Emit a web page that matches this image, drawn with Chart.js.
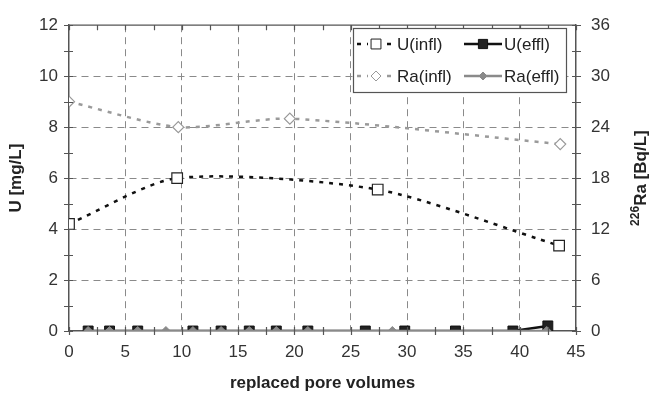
<!DOCTYPE html>
<html>
<head>
<meta charset="utf-8">
<script src="https://cdn.jsdelivr.net/npm/chart.js@4"></script>
<style>
  body { margin: 0; background: #fff; }
  #wrap { width: 651px; height: 402px; }
</style>
</head>
<body>
<div id="wrap"><canvas id="chart" width="651" height="402"></canvas></div>
<script>
// values
const uInflX = [0, 9.6, 27.4, 43.5];
const uInfl = [4.2, 6.0, 5.55, 3.35];
const uEfflX = [1.7, 3.6, 6.1, 11.0, 13.5, 16.0, 18.4, 21.2, 26.3, 29.8, 34.3, 39.4, 42.5];
const uEffl = [0, 0, 0, 0, 0, 0, 0, 0, 0, 0, 0, 0, 0.2];
const raInflX = [0, 9.7, 19.6, 43.6];
const raInfl = [27, 24, 25, 22];
const raEfflX = [1.7, 3.6, 6.1, 8.6, 11.0, 13.5, 16.0, 18.4, 21.2, 28.7, 42.4];
const raEffl = [0, 0, 0, 0, 0, 0, 0, 0, 0, 0, 0];

const xTicks = [0, 5, 10, 15, 20, 25, 30, 35, 40, 45];
const uTicks = [0, 2, 4, 6, 8, 10, 12];
const raTicks = [0, 6, 12, 18, 24, 30, 36];

const FONT = '"Liberation Sans", Arial, sans-serif';
const GRAY = '#8a8a8a';

function pts(xs, ys) {
    return xs.map((x, i) => ({ x: x, y: ys[i] }));
}

// tick marks crossing the axes, frame on top, right title with superscript
const frameTicks = {
    id: 'frameTicks',
    afterDraw(chart) {
        const ctx = chart.ctx;
        const a = chart.chartArea;
        const xs = chart.scales.x, yl = chart.scales.y, yr = chart.scales.y2;
        ctx.save();
        ctx.strokeStyle = '#555';
        ctx.lineWidth = 1.2;
        ctx.beginPath();
        ctx.moveTo(a.left, a.top); ctx.lineTo(a.right, a.top);
        for (let v = 0; v <= 45; v += 2.5) {
            const px = Math.round(xs.getPixelForValue(v)) + 0.5;
            ctx.moveTo(px, a.bottom - 4); ctx.lineTo(px, a.bottom + 4);
            ctx.moveTo(px, a.top); ctx.lineTo(px, a.top + 5);
        }
        for (let v = 0; v <= 12; v += 1) {
            const py = Math.round(yl.getPixelForValue(v)) + 0.5;
            ctx.moveTo(a.left - 5, py); ctx.lineTo(a.left + 4, py);
        }
        for (let v = 0; v <= 36; v += 3) {
            const py = Math.round(yr.getPixelForValue(v)) + 0.5;
            ctx.moveTo(a.right - 4, py); ctx.lineTo(a.right + 5, py);
        }
        ctx.stroke();

        ctx.fillStyle = '#222';
        ctx.translate(640, (a.top + a.bottom) / 2);
        ctx.rotate(-Math.PI / 2);
        ctx.font = 'bold 12px ' + FONT;
        const sup = '226';
        const main = 'Ra [Bq/L]';
        const supW = ctx.measureText(sup).width;
        ctx.font = 'bold 17px ' + FONT;
        const mainW = ctx.measureText(main).width;
        const x0 = -(supW + mainW) / 2;
        ctx.fillText(main, x0 + supW, 6);
        ctx.font = 'bold 12px ' + FONT;
        ctx.fillText(sup, x0, -1);
        ctx.restore();
    }
};

// legend box inside the plot
const boxLegend = {
    id: 'boxLegend',
    afterDraw(chart) {
        const ctx = chart.ctx;
        ctx.save();
        ctx.fillStyle = '#fff';
        ctx.fillRect(353, 28, 213, 64);
        ctx.strokeStyle = '#555';
        ctx.lineWidth = 1.2;
        ctx.strokeRect(353.5, 28.5, 213, 64);
        const cells = [[0, 357, 44], [1, 464, 44], [2, 357, 76], [3, 464, 76]];
        cells.forEach(([i, x, y]) => {
            const ds = chart.data.datasets[i];
            ctx.strokeStyle = ds.borderColor;
            ctx.lineWidth = ds.borderWidth;
            ctx.setLineDash(ds.borderDash || []);
            ctx.beginPath();
            ctx.moveTo(x, y); ctx.lineTo(x + 38, y);
            ctx.stroke();
            ctx.setLineDash([]);
            if (ds.borderDash) {
                ctx.fillStyle = '#fff';
                ctx.fillRect(x + 11, y - 6, 16, 12);
            }
            ctx.fillStyle = ds.pointBackgroundColor;
            ctx.strokeStyle = ds.pointBorderColor;
            ctx.lineWidth = 1;
            Chart.helpers.drawPoint(ctx, {
                pointStyle: ds.pointStyle,
                radius: ds.pointRadius - 0.5,
                borderWidth: 1
            }, x + 19, y);
            ctx.fillStyle = '#222';
            ctx.font = '17px ' + FONT;
            ctx.textBaseline = 'middle';
            ctx.fillText(ds.label, x + 40, y + 1);
        });
        ctx.restore();
    }
};

const axisFont = { family: FONT, size: 17 };
const titleFont = { family: FONT, size: 17, weight: 'bold' };

new Chart(document.getElementById('chart'), {
    type: 'line',
    data: {
        datasets: [{
            label: 'U(infl)',
            data: pts(uInflX, uInfl),
            yAxisID: 'y',
            borderColor: '#111',
            borderWidth: 2.5,
            borderDash: [4, 6],
            tension: 0.25,
            pointStyle: 'rect',
            pointRadius: 7.5,
            pointBackgroundColor: '#fff',
            pointBorderColor: '#222',
            pointBorderWidth: 1.2,
            order: 4
        }, {
            label: 'U(effl)',
            data: pts(uEfflX, uEffl),
            yAxisID: 'y',
            borderColor: '#111',
            borderWidth: 2.5,
            tension: 0,
            pointStyle: 'rect',
            pointRadius: 7,
            pointBackgroundColor: '#222',
            pointBorderColor: '#111',
            pointBorderWidth: 1,
            order: 3
        }, {
            label: 'Ra(infl)',
            data: pts(raInflX, raInfl),
            yAxisID: 'y2',
            borderColor: '#9a9a9a',
            borderWidth: 2.5,
            borderDash: [4, 6],
            tension: 0.25,
            pointStyle: 'rectRot',
            pointRadius: 5.5,
            pointBackgroundColor: '#fff',
            pointBorderColor: '#999',
            pointBorderWidth: 1.2,
            order: 2
        }, {
            label: 'Ra(effl)',
            data: pts(raEfflX, raEffl),
            yAxisID: 'y2',
            borderColor: '#8a8a8a',
            borderWidth: 2.5,
            tension: 0,
            pointStyle: 'rectRot',
            pointRadius: 4.5,
            pointBackgroundColor: '#8a8a8a',
            pointBorderColor: '#8a8a8a',
            pointBorderWidth: 1,
            order: 1
        }]
    },
    options: {
        responsive: false,
        animation: false,
        layout: { padding: { top: 16, right: 0, left: 0, bottom: 0 } },
        plugins: {
            legend: { display: false },
            tooltip: { enabled: false }
        },
        scales: {
            x: {
                type: 'linear',
                min: 0,
                max: 45,
                afterBuildTicks: s => { s.ticks = xTicks.map(v => ({ value: v })); },
                afterFit: s => { s.height = 71; },
                grid: {
                    color: c => (c.tick.value === 0 || c.tick.value === 45) ? 'rgba(0,0,0,0)' : GRAY,
                    drawTicks: false
                },
                border: { color: '#555', width: 1.5, dash: [7, 5] },
                ticks: { color: '#333', font: axisFont, padding: 11, maxRotation: 0 },
                title: {
                    display: true,
                    text: 'replaced pore volumes',
                    color: '#222',
                    font: titleFont,
                    padding: { top: 0, bottom: 8 }
                }
            },
            y: {
                position: 'left',
                min: 0,
                max: 12,
                afterBuildTicks: s => { s.ticks = uTicks.map(v => ({ value: v })); },
                afterFit: s => { s.width = 69; },
                grid: {
                    color: c => (c.tick.value === 0 || c.tick.value === 12) ? 'rgba(0,0,0,0)' : GRAY,
                    drawTicks: false
                },
                border: { color: '#555', width: 1.5, dash: [7, 5] },
                ticks: { color: '#333', font: axisFont, padding: 11 },
                title: {
                    display: true,
                    text: 'U [mg/L]',
                    color: '#222',
                    font: titleFont,
                    padding: { top: 6, bottom: 0 }
                }
            },
            y2: {
                position: 'right',
                min: 0,
                max: 36,
                afterBuildTicks: s => { s.ticks = raTicks.map(v => ({ value: v })); },
                afterFit: s => { s.width = 75; },
                grid: { drawOnChartArea: false, drawTicks: false },
                border: { color: '#555', width: 1.5 },
                ticks: { color: '#333', font: axisFont, padding: 15 }
            }
        }
    },
    plugins: [frameTicks, boxLegend]
});
</script>
</body>
</html>
